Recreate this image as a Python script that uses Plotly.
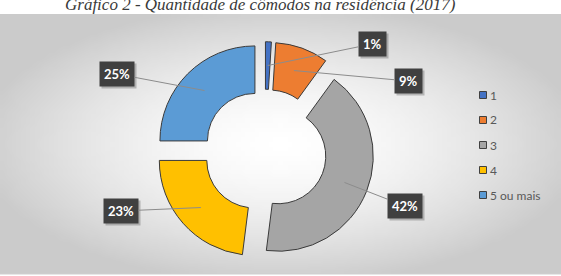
import math, struct, zlib, base64
import plotly.graph_objects as go

# ---------------- data ----------------
categories = ["1", "2", "3", "4", "5 ou mais"]
values = [1, 9, 42, 23, 25]
label_texts = ["1%", "9%", "42%", "23%", "25%"]
colors = ["#4472C4", "#ED7D31", "#A5A5A5", "#FFC000", "#5B9BD5"]
title_text = "Gráfico 2 - Quantidade de cômodos na residência (2017)"

# ---------------- layout constants ----------------
W, H = 561, 276
CX, CY = 265, 151          # pie centre (px)
R = 95                     # outer radius (px)
PULL = 0.15
HOLE = 0.5
# label box centres (px)
label_pos = [(372, 44), (408, 81), (405, 206), (121, 211), (117, 74)]
AREA_TOP, AREA_BOT = 14, 274
LEG_X, LEG_Y0, LEG_DY, LEG_SQ = 483, 95, 25, 7


def png_uri(w, h, fn):
    raw = b""
    for j in range(h):
        row = bytearray([0])
        for i in range(w):
            v = fn(i / (w - 1), j / (h - 1))
            row += bytes([v, v, v])
        raw += bytes(row)

    def chunk(t, d):
        c = struct.pack(">I", len(d)) + t + d
        return c + struct.pack(">I", zlib.crc32(t + d) & 0xffffffff)

    png = b"\x89PNG\r\n\x1a\n" + chunk(b"IHDR", struct.pack(">IIBBBBB", w, h, 8, 2, 0, 0, 0)) \
        + chunk(b"IDAT", zlib.compress(raw, 9)) + chunk(b"IEND", b"")
    return "data:image/png;base64," + base64.b64encode(png).decode()


def grad(u, v):
    dx = (u - 0.5) / 0.55
    dy = (v - 0.5) / 0.55
    t = min(1.0, math.sqrt(dx * dx + dy * dy))
    return int(round(255 - 52 * t ** 1.6))


bg_uri = png_uri(120, 56, grad)

half = R * (1 + PULL)
dom_x = [(CX - half) / W, (CX + half) / W]
dom_y = [1 - (CY + half) / H, 1 - (CY - half) / H]

fig = go.Figure()
fig.add_trace(go.Pie(
    labels=categories, values=values, sort=False, direction="clockwise", rotation=0,
    hole=HOLE, pull=[PULL] * len(values), textinfo="none", showlegend=False,
    marker=dict(colors=colors, line=dict(color="#3a3a3a", width=1)),
    domain=dict(x=dom_x, y=dom_y),
))

annotations = []
shapes = []
total = sum(values)
cum = 0
for v, txt, (bx, by) in zip(values, label_texts, label_pos):
    mid = (cum + v / 2) / total * 2 * math.pi
    cum += v
    rm = R * (1 + HOLE) / 2
    px = CX + (rm + PULL * R) * math.sin(mid)
    py = CY - (rm + PULL * R) * math.cos(mid)
    # shadow
    annotations.append(dict(
        x=(bx + 2) / W, y=1 - (by + 2) / H, xref="paper", yref="paper",
        text=f"<b>{txt}</b>", showarrow=False, bgcolor="rgba(0,0,0,0.22)",
        font=dict(family="Lato, Open Sans, sans-serif", size=13, color="rgba(0,0,0,0)"),
        borderpad=4, xanchor="center", yanchor="middle",
    ))
    annotations.append(dict(
        x=px / W, y=1 - py / H, xref="paper", yref="paper",
        ax=bx - px, ay=by - py, axref="pixel", ayref="pixel",
        text=f"<b>{txt}</b>", showarrow=True, arrowhead=0, arrowwidth=1,
        arrowcolor="#8c8c8c", standoff=0, startstandoff=0,
        bgcolor="#404040", borderpad=4,
        font=dict(family="Lato, Open Sans, sans-serif", size=13, color="white"),
    ))

# legend (drawn from categories/colors)
for i, (c, col) in enumerate(zip(categories, colors)):
    yc = LEG_Y0 + i * LEG_DY
    shapes.append(dict(type="rect", xref="paper", yref="paper",
                       x0=(LEG_X - LEG_SQ / 2) / W, x1=(LEG_X + LEG_SQ / 2) / W,
                       y0=1 - (yc + LEG_SQ / 2) / H, y1=1 - (yc - LEG_SQ / 2) / H,
                       fillcolor=col, line=dict(color="#404040", width=1)))
    annotations.append(dict(
        x=(LEG_X + LEG_SQ / 2 + 1) / W, y=1 - yc / H, xref="paper", yref="paper",
        text=c, showarrow=False, xanchor="left", yanchor="middle",
        font=dict(family="Lato, Open Sans, sans-serif", size=12, color="#595959"),
    ))

annotations.append(dict(
    x=0.465, y=1 - 5 / H, xref="paper", yref="paper", showarrow=False,
    text=f"<i>{title_text}</i>", xanchor="center", yanchor="middle",
    font=dict(family="Liberation Serif, Times New Roman, serif", size=17, color="#3a3a3a"),
))

shapes.append(dict(type="line", xref="paper", yref="paper", x0=0, x1=1,
                   y0=1 - AREA_BOT / H, y1=1 - AREA_BOT / H,
                   line=dict(color="#cfcfcf", width=1)))

fig.update_layout(
    width=W, height=H, margin=dict(l=0, r=0, t=0, b=0),
    paper_bgcolor="white", plot_bgcolor="rgba(0,0,0,0)",
    annotations=annotations, shapes=shapes,
    images=[dict(source=bg_uri, xref="paper", yref="paper", x=0, y=1 - AREA_TOP / H,
                 sizex=1, sizey=(AREA_BOT - AREA_TOP) / H, sizing="stretch",
                 xanchor="left", yanchor="top", layer="below")],
    showlegend=False,
)

fig.write_html("out.html")
